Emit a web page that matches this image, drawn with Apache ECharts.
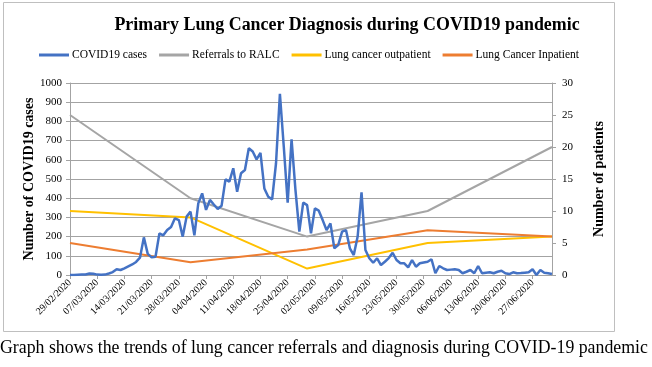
<!DOCTYPE html>
<html><head><meta charset="utf-8">
<script src="https://cdn.jsdelivr.net/npm/echarts@6/dist/echarts.min.js"></script>
<style>html,body{margin:0;padding:0;background:#fff}#c{width:652px;height:367px}</style>
</head><body><div id="c"></div>
<script>
var titleText = 'Primary Lung Cancer Diagnosis during COVID19 pandemic';
var captionText = 'Graph shows the trends of lung cancer referrals and diagnosis during COVID-19 pandemic';
var seriesNames = ['COVID19 cases', 'Referrals to RALC', 'Lung cancer outpatient', 'Lung Cancer Inpatient'];
var startDate = [2020, 1, 29]; // 29/02/2020
var dayCount = 125;           // 29/02/2020 .. 02/07/2020
var covidCases = [
  0,0,1,2,3,8,6,2,1,2, 8,15,30,26,35,45,55,68,90,196,
  110,92,95,217,207,234,250,295,286,200, 304,330,207,373,425,339,391,367,344,361,
  498,486,556,434,530,547,660,643,602,636, 451,408,394,582,943,668,377,707,443,226,
  377,364,217,347,335,286,234,269,139,156, 226,234,139,104,200,431,130,87,64,87,
  52,69,88,116,78,61,61,40,78,43, 61,65,69,82,9,47,35,26,28,30,
  26,9,17,26,9,47,9,12,14,9, 17,22,9,5,14,9,10,12,14,30,
  0,26,12,9,5
];
var monthlyDates = ['29/02/2020', '31/03/2020', '30/04/2020', '31/05/2020', '02/07/2020'];
var referrals = [25, 12, 6, 10, 20];
var outpatient = [10, 9, 1, 5, 6];
var inpatient = [5, 2, 4, 7, 6];
var leftTicks = {min: 0, max: 1000, interval: 100};
var rightTicks = {min: 0, max: 30, interval: 5};

function pad(n){return (n<10?'0':'')+n;}
var dates = [];
for (var i = 0; i < dayCount; i++) {
  var d = new Date(Date.UTC(startDate[0], startDate[1], startDate[2] + i));
  dates.push(pad(d.getUTCDate()) + '/' + pad(d.getUTCMonth()+1) + '/' + d.getUTCFullYear());
}
function monthly(vals){
  return monthlyDates.map(function(md, k){ return [dates.indexOf(md), vals[k]]; });
}
var serif = '"Liberation Serif", "Times New Roman", serif';
var gridColor = '#a3a3a3';
var chart = echarts.init(document.getElementById('c'), null, {renderer: 'canvas'});
chart.setOption({
  animation: false,
  textStyle: {fontFamily: serif, color: '#000'},
  title: {text: titleText, left: 342, top: 11, textAlign: 'center',
    textStyle: {fontFamily: serif, fontWeight: 'bold', fontSize: 17.9, color: '#000'}},
  legend: {top: 44, left: 34, itemWidth: 30, itemHeight: 3, itemGap: 12, icon: 'rect',
    textStyle: {fontFamily: serif, fontSize: 11.5, color: '#000', padding: [0, 0, 0, -2]},
    data: seriesNames},
  grid: {left: 70, right: 100, top: 83, bottom: 92, containLabel: false},
  xAxis: {type: 'category', data: dates, boundaryGap: false,
    axisLine: {lineStyle: {color: gridColor}},
    axisTick: {interval: 6, lineStyle: {color: gridColor}, length: 4},
    axisLabel: {interval: 6, rotate: 45, fontSize: 10, color: '#000', fontFamily: serif, margin: 6}},
  yAxis: [
    {type: 'value', min: leftTicks.min, max: leftTicks.max, interval: leftTicks.interval,
      name: 'Number of COVID19 cases', nameLocation: 'middle', nameGap: 34, nameRotate: 90,
      nameMoveOverlap: false,
      nameTextStyle: {fontFamily: serif, fontWeight: 'bold', fontSize: 14, color: '#000'},
      axisLine: {show: true, lineStyle: {color: gridColor}},
      axisTick: {show: true, length: 4, lineStyle: {color: gridColor}},
      axisLabel: {fontSize: 11, color: '#000', fontFamily: serif, margin: 8,
        formatter: function(v){ return String(v); }},
      splitLine: {lineStyle: {color: gridColor, width: 1}}},
    {type: 'value', min: rightTicks.min, max: rightTicks.max, interval: rightTicks.interval,
      name: 'Number of patients', nameLocation: 'middle', nameGap: 40, nameRotate: 90,
      nameMoveOverlap: false,
      nameTextStyle: {fontFamily: serif, fontWeight: 'bold', fontSize: 14, color: '#000'},
      axisLine: {show: true, lineStyle: {color: gridColor}},
      axisTick: {show: true, length: 4, lineStyle: {color: gridColor}},
      axisLabel: {fontSize: 11, color: '#000', fontFamily: serif, margin: 10},
      splitLine: {show: false}}
  ],
  series: [
    {name: seriesNames[0], type: 'line', yAxisIndex: 0, data: covidCases, showSymbol: false,
      lineStyle: {color: '#4472C4', width: 2.5}, itemStyle: {color: '#4472C4'}, z: 5},
    {name: seriesNames[1], type: 'line', yAxisIndex: 1, data: monthly(referrals), showSymbol: false,
      lineStyle: {color: '#A5A5A5', width: 2}, itemStyle: {color: '#A5A5A5'}},
    {name: seriesNames[2], type: 'line', yAxisIndex: 1, data: monthly(outpatient), showSymbol: false,
      lineStyle: {color: '#FFC000', width: 2}, itemStyle: {color: '#FFC000'}},
    {name: seriesNames[3], type: 'line', yAxisIndex: 1, data: monthly(inpatient), showSymbol: false,
      lineStyle: {color: '#ED7D31', width: 2}, itemStyle: {color: '#ED7D31'}}
  ],
  graphic: [
    {type: 'rect', shape: {x: 3.5, y: 2.5, width: 611, height: 329}, silent: true, z: -1,
      style: {fill: 'none', stroke: '#bfbfbf', lineWidth: 1}},
    {type: 'text', left: 0, top: 339, silent: true,
      style: {text: captionText, font: '17.8px ' + serif, fill: '#000'}}
  ]
});
</script></body></html>
